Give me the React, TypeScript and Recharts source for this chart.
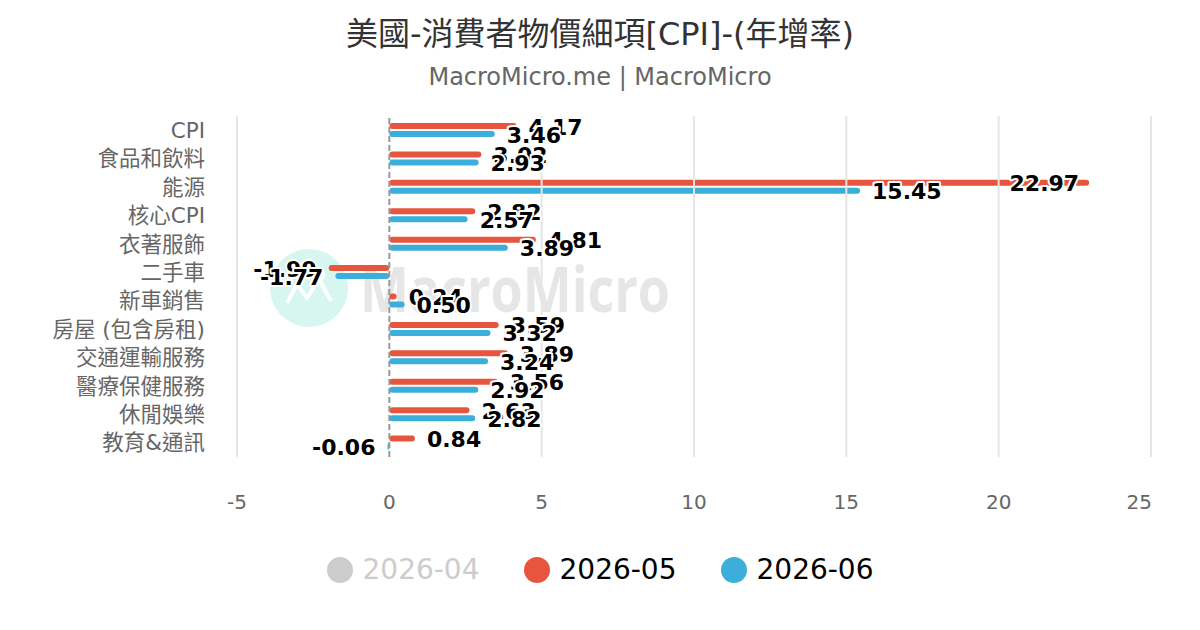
import { Bar, BarChart, LabelList, ReferenceLine, XAxis, YAxis } from 'recharts'

const categories = [
  'CPI',
  '食品和飲料',
  '能源',
  '核心CPI',
  '衣著服飾',
  '二手車',
  '新車銷售',
  '房屋 (包含房租)',
  '交通運輸服務',
  '醫療保健服務',
  '休閒娛樂',
  '教育&通訊',
]
const may2026 = [4.17, 3.02, 22.97, 2.82, 4.81, -1.99, 0.24, 3.59, 3.89, 3.56, 2.63, 0.84]
const jun2026 = [3.46, 2.93, 15.45, 2.57, 3.89, -1.77, 0.5, 3.32, 3.24, 2.92, 2.82, -0.06]
const xTicks = [-5, 0, 5, 10, 15, 20, 25]
const legendItems = [
  { name: '2026-04', color: '#cccccc', hidden: true },
  { name: '2026-05', color: '#e8553e', hidden: false },
  { name: '2026-06', color: '#3bafda', hidden: false },
]

const data = categories.map((name, i) => ({ name, may: may2026[i], jun: jun2026[i] }))

const FONT = "'DejaVu Sans', 'Noto Sans CJK TC', sans-serif"
const PLOT_RIGHT = 1151

function ValueLabel(props: any) {
  const { x, y, width, height, value } = props
  const x0 = Number(x)
  const w = Number(width)
  const v = Number(value)
  const end = v >= 0 ? Math.max(x0, x0 + w) : Math.min(x0, x0 + w)
  const text = v.toFixed(2)
  const textW = text.length * 13.5
  let tx = end + 12
  let anchor: 'start' | 'end' = 'start'
  if (v < 0) {
    tx = end - 12
    anchor = 'end'
  } else if (end + 12 + textW > PLOT_RIGHT) {
    tx = end - 10
    anchor = 'end'
  }
  return (
    <text
      x={tx}
      y={Number(y) + Number(height) / 2 + 1}
      textAnchor={anchor}
      dominantBaseline="central"
      fontFamily={FONT}
      fontWeight="bold"
      fontSize={22}
      fill="#000"
      stroke="#fff"
      strokeWidth={4}
      strokeLinejoin="round"
      paintOrder="stroke"
    >
      {text}
    </text>
  )
}

function XTick(props: any) {
  const { x, y, payload } = props
  const last = payload.value === xTicks[xTicks.length - 1]
  return (
    <text
      x={last ? x + 1 : x}
      y={y}
      dy="0.71em"
      textAnchor={last ? 'end' : 'middle'}
      fontFamily={FONT}
      fontSize={20}
      fill="#666"
    >
      {payload.value}
    </text>
  )
}

function Watermark() {
  return (
    <svg width={1200} height={630} style={{ position: 'absolute', left: 0, top: 0 }}>
      <circle cx={309} cy={288} r={39} fill="#d6f6ef" />
      <polyline
        points="287,303 297,284 307,298 319,279 331,301"
        fill="none"
        stroke="#fff"
        strokeWidth={4}
        strokeLinejoin="round"
      />
      <circle cx={319} cy={275} r={5} fill="none" stroke="#fff" strokeWidth={3} />
      <text
        x={360}
        y={312}
        fontFamily="'Open Sans', sans-serif"
        fontWeight={700}
        fontSize={62}
        fill="#e6e6e6"
        textLength={310}
        lengthAdjust="spacingAndGlyphs"
      >
        MacroMicro
      </text>
    </svg>
  )
}

export default function App() {
  return (
    <div style={{ position: 'relative', width: 1200, height: 630, background: '#fff', fontFamily: FONT }}>
      <style>{'body{margin:0}'}</style>
      <Watermark />
      <div style={{ position: 'absolute', top: 8, width: 1200, textAlign: 'center', fontSize: 32, color: '#333' }}>
        美國-消費者物價細項[CPI]-(年增率)
      </div>
      <div style={{ position: 'absolute', top: 63, width: 1200, textAlign: 'center', fontSize: 24, color: '#666' }}>
        MacroMicro.me | MacroMicro
      </div>
      <div style={{ position: 'absolute', left: 0, top: 0 }}>
        <BarChart
          width={1200}
          height={630}
          data={data}
          layout="vertical"
          margin={{ top: 116, right: 49, bottom: 113, left: 0 }}
          barSize={6}
          barGap={2}
        >
          {xTicks
            .filter((t) => t !== 0)
            .map((t) => (
              <ReferenceLine key={t} x={t} stroke="#e6e6e6" strokeWidth={2} />
            ))}
          <XAxis
            type="number"
            domain={[-5, 25]}
            ticks={xTicks}
            axisLine={false}
            tickLine={false}
            tickSize={0}
            tickMargin={38}
            height={60}
            tick={<XTick />}
            interval={0}
          />
          <YAxis
            type="category"
            dataKey="name"
            width={237}
            axisLine={false}
            tickLine={false}
            tickSize={0}
            tickMargin={32}
            interval={0}
            tick={{ fill: '#666', fontSize: 21.5, fontFamily: FONT }}
          />
          <ReferenceLine x={0} stroke="#999" strokeWidth={2} strokeDasharray="6 3" />
          <Bar dataKey="may" fill="#e8553e" radius={3} isAnimationActive={false}>
            <LabelList dataKey="may" content={<ValueLabel />} />
          </Bar>
          <Bar dataKey="jun" fill="#3bafda" radius={3} isAnimationActive={false}>
            <LabelList dataKey="jun" content={<ValueLabel />} />
          </Bar>
        </BarChart>
      </div>
      <div
        style={{
          position: 'absolute',
          top: 553,
          width: 1200,
          display: 'flex',
          justifyContent: 'center',
          gap: 44,
          fontSize: 28,
        }}
      >
        {legendItems.map((item) => (
          <div key={item.name} style={{ display: 'flex', alignItems: 'center', gap: 10 }}>
            <span
              style={{ width: 26, height: 26, borderRadius: 13, background: item.color, display: 'inline-block' }}
            />
            <span style={{ color: item.hidden ? '#cccccc' : '#000' }}>{item.name}</span>
          </div>
        ))}
      </div>
    </div>
  )
}
